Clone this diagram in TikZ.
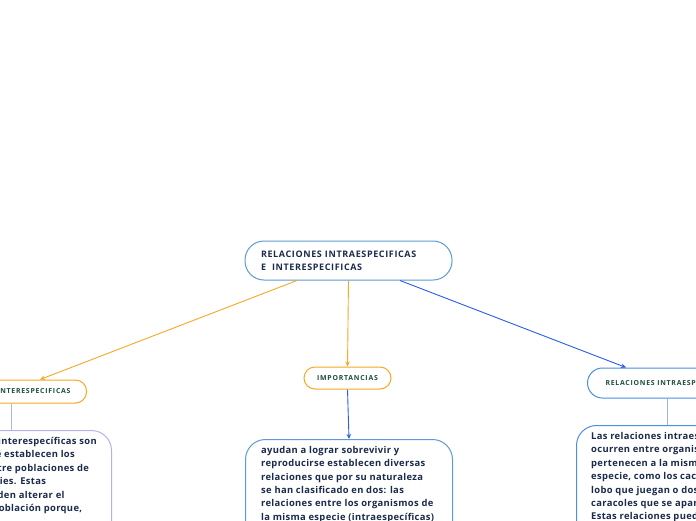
\documentclass[tikz,border=0pt]{standalone}
\usepackage{fontspec}
\setmainfont{Open Sans}
\usetikzlibrary{arrows.meta}
\definecolor{orangeline}{HTML}{F7A823}
\definecolor{rootblue}{HTML}{5B9BD5}
\definecolor{navytext}{HTML}{1B2B4B}
\definecolor{greentext}{HTML}{1E4D3A}
\definecolor{blueline}{HTML}{2B5CE6}
\definecolor{lavender}{HTML}{B3B3E6}
\definecolor{rightblue}{HTML}{4A8FE0}
\definecolor{lightconn}{HTML}{9DB8E8}
\tikzset{
  rootbox/.style={draw=rootblue, line width=1pt, rounded corners=19pt, minimum width=207pt, minimum height=39pt, text width=175pt, align=left, inner sep=0pt, text=navytext, font=\bfseries\addfontfeatures{LetterSpace=7}\fontsize{9}{13}\selectfont},
  labelbox/.style={line width=1pt, rounded corners=11pt, inner ysep=0pt, minimum height=23pt, text=greentext, font=\bfseries\addfontfeatures{LetterSpace=11}\fontsize{6.9}{8}\selectfont},
  textbox/.style={line width=1pt, rounded corners=20pt, inner sep=0pt, minimum height=160pt, anchor=north west},
  bodytext/.style={inner sep=0pt, anchor=north west, align=left, text=navytext, font=\bfseries\addfontfeatures{LetterSpace=3.5}\fontsize{9.4}{13.4}\selectfont},
  conn/.style={line width=0.9pt, -{Stealth[length=5pt,width=4.5pt]}},
  plain/.style={line width=0.9pt}
}
\begin{document}
\begin{tikzpicture}[x=1pt,y=-1pt]
\useasboundingbox (0,0) rectangle (696,520);
\clip (0,0) rectangle (696,520);
\fill[white] (0,0) rectangle (696,520);
% root
\node[rootbox] (root) at (348.5,260.5) {RELACIONES INTRAESPECIFICAS\\E\ \ INTERESPECIFICAS};
% label boxes
\node[labelbox, draw=orangeline, inner xsep=16pt, anchor=east] (lchild) at (87,391.5) {RELACIONES INTERESPECIFICAS};
\node[labelbox, draw=orangeline, minimum width=87pt, minimum height=22pt, inner xsep=0pt] (imp) at (347.5,378) {IMPORTANCIAS};
\node[labelbox, draw=rightblue, inner xsep=18pt, minimum height=30pt, rounded corners=15pt, anchor=west] (rchild) at (587,383) {RELACIONES INTRAESPECIFICAS};
% text boxes
\node[textbox, draw=lavender, minimum width=210pt] (lbox) at (-99,430) {};
\node[textbox, draw=rootblue, minimum width=207pt] (mbox) at (245,439) {};
\node[textbox, draw=rightblue, minimum width=182pt] (rbox) at (576,425) {};
\node[bodytext] (ltext) at (-75,437) {Las relaciones interespecíficas son\\aquellas que se establecen los\\organismos entre poblaciones de\\distintas especies. Estas\\relaciones pueden alterar el\\tamaño de la población porque,};
\node[bodytext] (mtext) at (261,446) {ayudan a lograr sobrevivir y\\reproducirse establecen diversas\\relaciones que por su naturaleza\\se han clasificado en dos: las\\relaciones entre los organismos de\\la misma especie (intraespecíficas)};
\node[bodytext] (rtext) at (591,432) {Las relaciones intraespecíficas\\ocurren entre organismos que\\pertenecen a la misma\\especie, como los cachorros de\\lobo que juegan o dos\\caracoles que se aparean.\\Estas relaciones pueden ser};
% connector anchor points
\coordinate (lc) at (11,0);
\coordinate (rc) at (667,0);
% connectors
\draw[conn, orangeline] ([xshift=-51.5pt]root.south) -- ([xshift=-47pt]lchild.north east);
\draw[conn, orangeline] (root.south) -- (imp.north);
\draw[conn, blueline] ([xshift=51.5pt]root.south) -- ([xshift=39pt]rchild.north west);
\draw[conn, blueline] (imp.south) -- (mbox.north);
\draw[plain, lavender] (lc |- lchild.south) -- (lc |- lbox.north);
\draw[plain, lightconn] (rc |- rchild.south) -- (rc |- rbox.north);
\end{tikzpicture}
\end{document}
